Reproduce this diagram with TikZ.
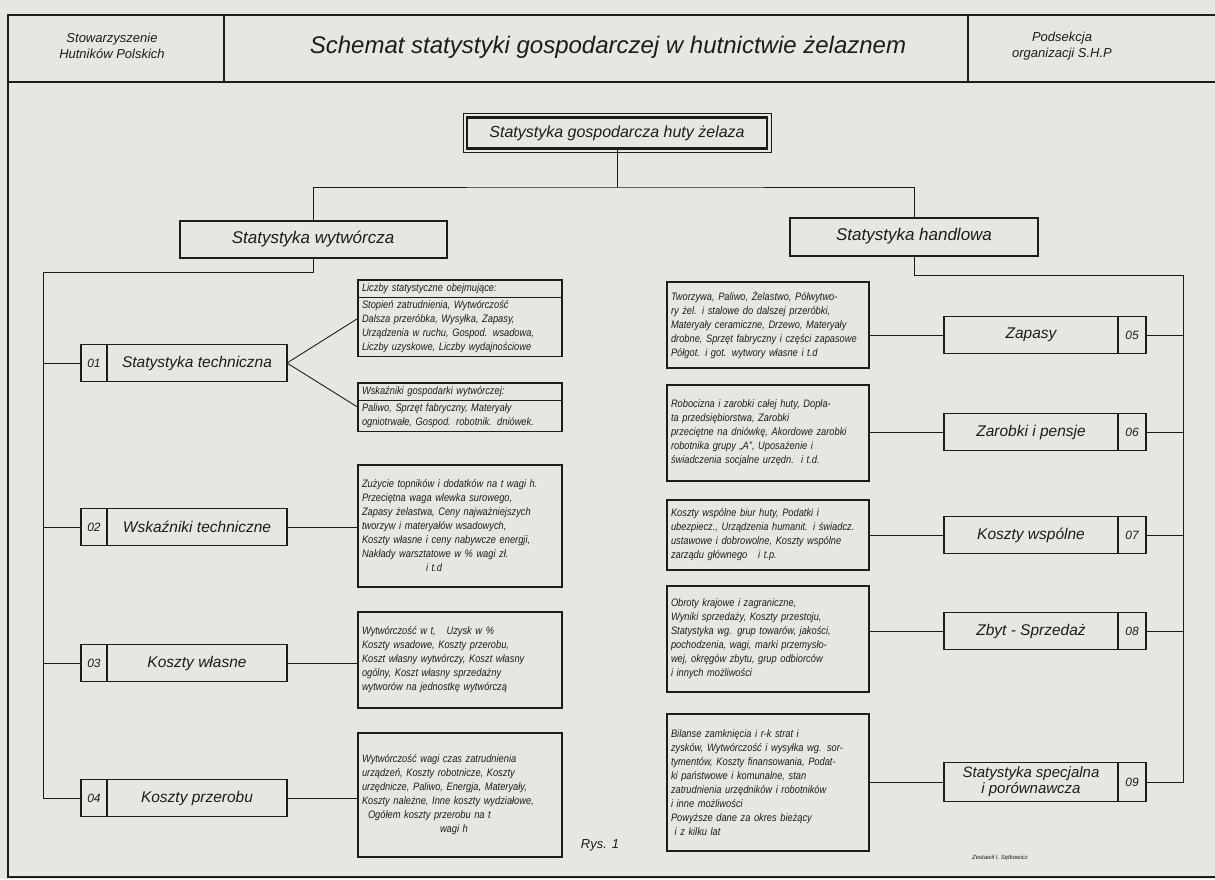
\documentclass[tikz,border=0pt]{standalone}
\usepackage{fontspec}
\setmainfont{Liberation Sans}
\newfontfamily\boxfont[FakeStretch=0.86]{Liberation Sans}
\usetikzlibrary{positioning,calc,shapes.multipart}
\definecolor{paper}{HTML}{E7E7E2}
\definecolor{ink}{HTML}{1C1C1C}

\tikzset{
	every node/.style={text=ink,font=\itshape},
	lvlbox/.style={draw=ink,line width=2pt,inner sep=0pt,outer sep=0pt},
	numbox/.style={draw=ink,line width=1.3pt,minimum width=26,minimum height=37,inner sep=0pt,outer sep=0pt,align=center,font=\itshape\fontsize{12}{14}\selectfont},
	namebox/.style={numbox,minimum width=180,font=\itshape\fontsize{15.5}{16}\selectfont},
	txtbox/.style={draw=ink,line width=1.2pt,text width=196,inner xsep=4,inner ysep=3,outer sep=0pt,align=left,font=\boxfont\itshape\fontsize{10.8}{14}\selectfont},
	splitbox/.style={txtbox,rectangle split,rectangle split parts=2},
	link/.style={draw=ink,line width=0.9pt},
}

\begin{document}
\begin{tikzpicture}[x=1pt,y=-1pt]
	\fill[paper] (0,0) rectangle (1215,879);
	\useasboundingbox (0,0) rectangle (1215,879);
	% frame and header
	\draw[ink,line width=2.4pt] (1215,15) -- (8,15) -- (8,877) -- (1215,877);
	\draw[ink,line width=2pt] (8,82) -- (1215,82);
	\draw[ink,line width=1.8pt] (224,15) -- (224,82) (968,15) -- (968,82);
	\node[align=center,font=\itshape\fontsize{13}{16}\selectfont] (shp) at (112,46) {Stowarzyszenie\\Hutników Polskich};
	\node[font=\itshape\fontsize{24}{28}\selectfont] (title) at (608,47) {Schemat statystyki gospodarczej w hutnictwie żelaznem};
	\node[align=center,font=\itshape\fontsize{13}{16}\selectfont] (podsek) at (1062,46) {Podsekcja\\organizacji S.H.P};

	% main levels
	\node[lvlbox,line width=2.6pt,minimum width=300,minimum height=31,font=\itshape\fontsize{16}{18}\selectfont] (huta) at (617,133) {Statystyka gospodarcza huty żelaza};
	\draw[ink,line width=0.6pt] ($(huta.north west)+(-4,-4)$) rectangle ($(huta.south east)+(4,4)$);
	\node[lvlbox,minimum width=267,minimum height=37,font=\itshape\fontsize{17}{19}\selectfont] (wyt) at (313,239) {Statystyka wytwórcza};
	\node[lvlbox,minimum width=248,minimum height=38,font=\itshape\fontsize{17}{19}\selectfont] (hand) at (914,236.5) {Statystyka handlowa};
	\coordinate (split) at (617,187);
	\draw[link] (huta.south) -- (split);
	\draw[link] (wyt.north) |- (split) -| (hand.north);

	% left column
	\node[numbox] (n01) at (94,363) {01};
	\node[namebox,right=0pt of n01] (b01) {Statystyka techniczna};
	\node[numbox] (n02) at (94,527) {02};
	\node[namebox,right=0pt of n02] (b02) {Wskaźniki techniczne};
	\node[numbox] (n03) at (94,663) {03};
	\node[namebox,right=0pt of n03] (b03) {Koszty własne};
	\node[numbox] (n04) at (94,798) {04};
	\node[namebox,right=0pt of n04] (b04) {Koszty przerobu};
	\coordinate (lspine) at (43,272);
	\draw[link] (wyt.south) |- (lspine) |- (n04.west);
	\draw[link] (lspine |- n01.west) -- (n01.west);
	\draw[link] (lspine |- n02.west) -- (n02.west);
	\draw[link] (lspine |- n03.west) -- (n03.west);

	\node[splitbox,anchor=north west] (liczby) at (358,280) {Liczby statystyczne obejmujące:\nodepart{second}Stopień zatrudnienia, Wytwórczość\\Dalsza przeróbka, Wysyłka, Zapasy,\\Urządzenia w ruchu, Gospod. wsadowa,\\Liczby uzyskowe, Liczby wydajnościowe};
	\node[splitbox,anchor=north west] (wskgosp) at (358,383) {Wskaźniki gospodarki wytwórczej:\nodepart{second}Paliwo, Sprzęt fabryczny, Materyały\\ogniotrwałe, Gospod. robotnik. dniówek.};
	\node[txtbox,anchor=north west,minimum height=122] (zuzycie) at (358,465) {Zużycie topników i dodatków na t wagi h.\\Przeciętna waga wlewka surowego,\\Zapasy żelastwa, Ceny najważniejszych\\tworzyw i materyałów wsadowych,\\Koszty własne i ceny nabywcze energji,\\Nakłady warsztatowe w \% wagi zł.\\\hspace*{64pt}i t.d};
	\node[txtbox,anchor=north west,minimum height=96] (wytw) at (358,612) {Wytwórczość w t,\quad Uzysk w \%\\Koszty wsadowe,\ Koszty przerobu,\\Koszt własny wytwórczy, Koszt własny\\ogólny, Koszt własny sprzedażny\\wytworów na jednostkę wytwórczą};
	\node[txtbox,anchor=north west,minimum height=124] (przer) at (358,733) {Wytwórczość wagi czas zatrudnienia\\urządzeń, Koszty robotnicze, Koszty\\urzędnicze, Paliwo, Energja, Materyały,\\Koszty należne, Inne koszty wydziałowe,\\\hspace*{6pt}Ogółem koszty przerobu na t\\\hspace*{78pt}wagi h};
	\draw[link] (b01.east) -- (liczby.west);
	\draw[link] (b01.east) -- (wskgosp.west);
	\draw[link] (b02.east) -- (b02.east -| zuzycie.west);
	\draw[link] (b03.east) -- (b03.east -| wytw.west);
	\draw[link] (b04.east) -- (b04.east -| przer.west);

	% right column
	\node[namebox,minimum width=174] (c05) at (1031,335) {Zapasy};
	\node[numbox,minimum width=28,right=0pt of c05] (m05) {05};
	\node[namebox,minimum width=174] (c06) at (1031,432) {Zarobki i pensje};
	\node[numbox,minimum width=28,right=0pt of c06] (m06) {06};
	\node[namebox,minimum width=174] (c07) at (1031,535) {Koszty wspólne};
	\node[numbox,minimum width=28,right=0pt of c07] (m07) {07};
	\node[namebox,minimum width=174] (c08) at (1031,631) {Zbyt - Sprzedaż};
	\node[numbox,minimum width=28,right=0pt of c08] (m08) {08};
	\node[namebox,minimum width=174,minimum height=39,font=\itshape\fontsize{15}{16}\selectfont] (c09) at (1031,782) {Statystyka specjalna\\i porównawcza};
	\node[numbox,minimum width=28,minimum height=39,right=0pt of c09] (m09) {09};
	\coordinate (rspine) at (1183,275);
	\draw[link] (hand.south) |- (rspine) |- (m09.east);
	\draw[link] (rspine |- m05.east) -- (m05.east);
	\draw[link] (rspine |- m06.east) -- (m06.east);
	\draw[link] (rspine |- m07.east) -- (m07.east);
	\draw[link] (rspine |- m08.east) -- (m08.east);

	\node[txtbox,text width=194,anchor=north west,minimum height=86] (tworz) at (667,282) {Tworzywa, Paliwo, Żelastwo, Półwytwo-\\ry żel. i stalowe do dalszej przeróbki,\\Materyały ceramiczne, Drzewo, Materyały\\drobne, Sprzęt fabryczny i części zapasowe\\Półgot. i got. wytwory własne i t.d};
	\node[txtbox,text width=194,anchor=north west,minimum height=96] (robo) at (667,385) {Robocizna i zarobki całej huty, Dopła-\\ta przedsiębiorstwa, Zarobki\\przeciętne na dniówkę, Akordowe zarobki\\robotnika grupy „A”, Uposażenie i\\świadczenia socjalne urzędn.\ \ i t.d.};
	\node[txtbox,text width=194,anchor=north west,minimum height=70] (wspol) at (667,500) {Koszty wspólne biur huty, Podatki i\\ubezpiecz., Urządzenia humanit. i świadcz.\\ustawowe i dobrowolne, Koszty wspólne\\zarządu głównego\ \ \ i t.p.};
	\node[txtbox,text width=194,anchor=north west,minimum height=106] (obroty) at (667,586) {Obroty krajowe i zagraniczne,\\Wyniki sprzedaży, Koszty przestoju,\\Statystyka wg. grup towarów, jakości,\\pochodzenia, wagi, marki przemysło-\\wej, okręgów zbytu, grup odbiorców\\i innych możliwości};
	\node[txtbox,text width=194,anchor=north west,minimum height=137] (bilans) at (667,714) {Bilanse zamknięcia i r-k strat i\\zysków, Wytwórczość i wysyłka wg. sor-\\tymentów, Koszty finansowania, Podat-\\ki państwowe i komunalne, stan\\zatrudnienia urzędników i robotników\\i inne możliwości\\Powyższe dane za okres bieżący\\\ i z kilku lat};
	\draw[link] (c05.west) -- (c05.west -| tworz.east);
	\draw[link] (c06.west) -- (c06.west -| robo.east);
	\draw[link] (c07.west) -- (c07.west -| wspol.east);
	\draw[link] (c08.west) -- (c08.west -| obroty.east);
	\draw[link] (c09.west) -- (c09.west -| bilans.east);

	% captions
	\node[font=\itshape\fontsize{13}{15}\selectfont] (rys) at (600,845) {Rys. 1};
	\node[font=\itshape\fontsize{6}{7}\selectfont] (autor) at (1000,858) {Zestawił I. Sętkowicz};
\end{tikzpicture}
\end{document}
